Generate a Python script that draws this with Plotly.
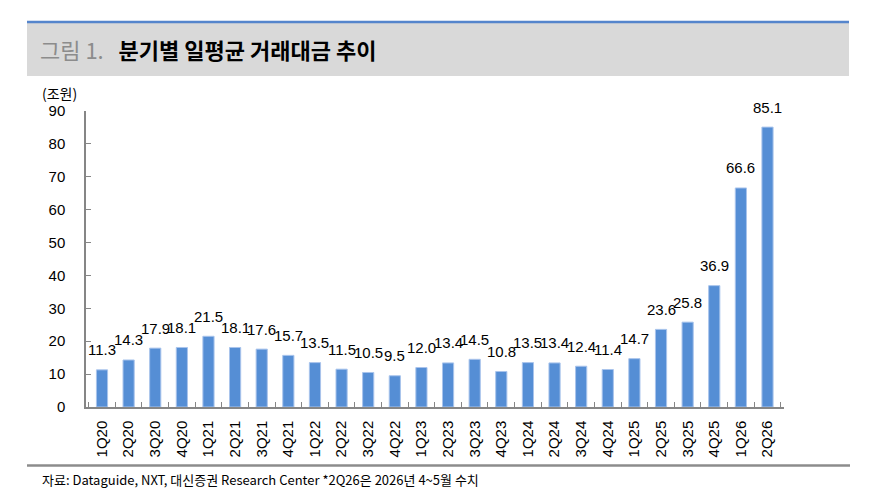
import plotly.graph_objects as go

categories = ["1Q20", "2Q20", "3Q20", "4Q20", "1Q21", "2Q21", "3Q21", "4Q21",
              "1Q22", "2Q22", "3Q22", "4Q22", "1Q23", "2Q23", "3Q23", "4Q23",
              "1Q24", "2Q24", "3Q24", "4Q24", "1Q25", "2Q25", "3Q25", "4Q25",
              "1Q26", "2Q26"]
values = [11.3, 14.3, 17.9, 18.1, 21.5, 18.1, 17.6, 15.7,
          13.5, 11.5, 10.5, 9.5, 12.0, 13.4, 14.5, 10.8,
          13.5, 13.4, 12.4, 11.4, 14.7, 23.6, 25.8, 36.9,
          66.6, 85.1]
y_ticks = [0, 10, 20, 30, 40, 50, 60, 70, 80, 90]

W, H = 871, 495
L, R, T, B = 86, 87, 111, 88
pw, ph = W - L - R, H - T - B

def px(x):
    return (x - L) / pw

def py(y):
    return (H - B - y) / ph

num_font = "Liberation Sans, Arial, sans-serif"
kr_font = "Noto Sans CJK KR, sans-serif"

fig = go.Figure()
fig.add_trace(go.Bar(
    x=categories, y=values,
    marker=dict(color="#558ED5", line=dict(color="#A9C4EC", width=1)),
    hoverinfo="x+y",
))

annotations = []
for c, v in zip(categories, values):
    annotations.append(dict(
        x=c, y=v, xref="x", yref="y", text=f"{v:.1f}", showarrow=False,
        yanchor="middle", yshift=20,
        font=dict(family=num_font, size=15, color="#000000"),
    ))

annotations.append(dict(
    x=px(40), y=py(93), xref="paper", yref="paper", xanchor="left", yanchor="middle",
    text="(조원)", showarrow=False, font=dict(family=kr_font, size=14, color="#000000"),
))
annotations.append(dict(
    x=px(38), y=py(49), xref="paper", yref="paper", xanchor="left", yanchor="middle",
    text="<span style='color:#8c8c8c'>그림 1.</span>&nbsp;&nbsp;&nbsp;<b>분기별 일평균 거래대금 추이</b>",
    showarrow=False, font=dict(family=kr_font, size=22, color="#000000"),
))
annotations.append(dict(
    x=px(40), y=py(479), xref="paper", yref="paper", xanchor="left", yanchor="middle",
    text="자료: Dataguide, NXT, 대신증권 Research Center *2Q26은 2026년 4~5월 수치",
    showarrow=False, font=dict(family=kr_font, size=13, color="#000000"),
))

shapes = [
    dict(type="rect", xref="paper", yref="paper", x0=px(27), x1=px(849),
         y0=py(76), y1=py(22), fillcolor="#D9D9D9", line=dict(width=0), layer="below"),
    dict(type="line", xref="paper", yref="paper", x0=px(27), x1=px(849),
         y0=py(22), y1=py(22), line=dict(color="#5585CC", width=2.5)),
    dict(type="line", xref="paper", yref="paper", x0=px(27), x1=px(850),
         y0=py(465.5), y1=py(465.5), line=dict(color="#8C8C8C", width=2.5)),
]

fig.update_layout(
    width=W, height=H,
    margin=dict(l=L, r=R, t=T, b=B),
    paper_bgcolor="white", plot_bgcolor="white",
    showlegend=False, bargap=0.58,
    annotations=annotations, shapes=shapes,
    xaxis=dict(
        type="category", showgrid=False, showline=True, linecolor="#868686", linewidth=1.5,
        ticks="inside", ticklen=5, tickcolor="#868686", tickwidth=1.2, tickson="boundaries",
        tickangle=-90, tickfont=dict(family=num_font, size=15, color="#000000"),
        ticklabelstandoff=6,
    ),
    yaxis=dict(
        range=[0, 90], tickvals=y_ticks, showgrid=False, zeroline=False,
        showline=True, linecolor="#868686", linewidth=1.5,
        ticks="inside", ticklen=5, tickcolor="#868686", tickwidth=1.2,
        tickfont=dict(family=num_font, size=15, color="#000000"),
        ticklabelstandoff=16,
    ),
)

fig.write_html("out.html")
